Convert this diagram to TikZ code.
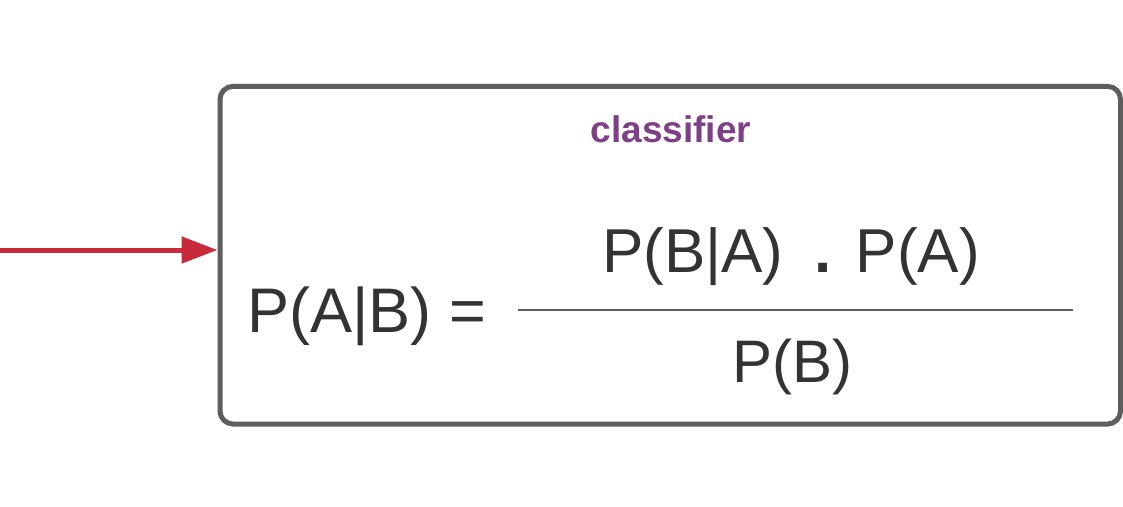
\documentclass[tikz,border=0pt]{standalone}
\usepackage{fontspec}
\setmainfont{Liberation Sans}
\usetikzlibrary{arrows.meta}
\definecolor{boxgray}{HTML}{5E5E5E}
\definecolor{txtgray}{HTML}{333333}
\definecolor{lblpurple}{HTML}{7D3F86}
\definecolor{arrred}{HTML}{C92A3A}
\tikzset{
  classbox/.style={draw=boxgray, line width=5pt, rounded corners=13pt, minimum width=900.5pt, minimum height=337.7pt, inner sep=0pt},
  formula/.style={text=txtgray, inner sep=0pt},
  redarrow/.style={draw=arrred, line width=5pt, -{Triangle[length=36pt,width=26pt]}},
}
\begin{document}
\begin{tikzpicture}[x=1pt,y=-1pt]
\useasboundingbox (0,0) rectangle (1123,506);
\node[classbox] (box) at (670.25,255.2) {};
\node[inner sep=0pt, anchor=base, text=lblpurple, font=\fontsize{37}{40}\selectfont\bfseries] (lbl) at (671,142) {classifier};
\node[formula, anchor=base west, font=\fontsize{63}{70}\selectfont] (lhs) at (247,332) {P(A|B) =};
\node[formula, anchor=base, font=\fontsize{62}{70}\selectfont] (num) at (791,272) {P(B|A)\hspace{31pt}{\bfseries .}\hspace{24pt}P(A)};
\node[formula, anchor=base, font=\fontsize{60}{70}\selectfont] (den) at (792.5,382) {P(B)};
\coordinate (fl) at (518,310);
\coordinate (fr) at (1073,310);
\draw[boxgray, line width=2pt] (fl) -- (fr);
\coordinate (src) at (0,250);
\draw[redarrow] (src) -- (src -| box.west);
\coordinate (outr) at (1123,256);
\draw[arrred, line width=4pt] (outr -| box.east) -- (outr);
\end{tikzpicture}
\end{document}
